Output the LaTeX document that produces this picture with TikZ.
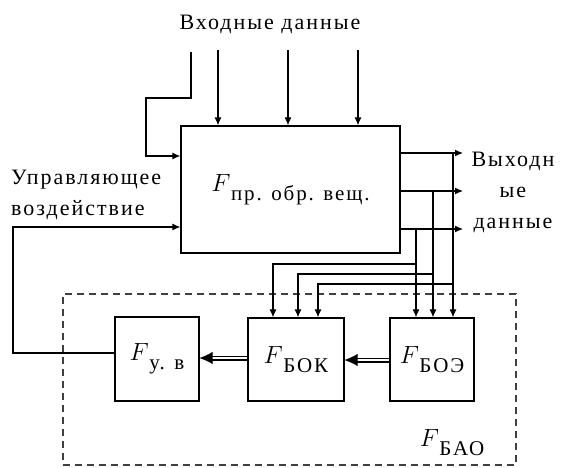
\documentclass[tikz,border=0pt]{standalone}
\usepackage{fontspec}
\setmainfont{Liberation Serif}
\newfontfamily\rmw[LetterSpace=9]{Liberation Serif}
\usetikzlibrary{arrows.meta}
\newcommand\FF[1]{{\fontsize{28}{30}\selectfont$F$}\kern0.5pt\raisebox{-9pt}{\fontsize{21}{22}\rmw #1}}
\newcommand\dblarrow[2]{%
  \draw[line width=5pt, shorten >=10pt] (#1) -- (#2);
  \draw[white, line width=1.6pt, shorten >=9pt, shorten <=0.7pt] (#1) -- (#2);
  \draw[white, line width=0.1pt, -{Latex[length=13pt,width=12pt,black]}] (#1) -- (#2);}
\begin{document}
\begin{tikzpicture}[x=1pt,y=-1pt,
  blk/.style={draw, line width=1.3pt, rectangle, inner sep=0pt},
  conn/.style={line width=1.1pt},
  arr/.style={conn, -{Latex[length=8pt,width=7pt]}},
  lbl/.style={font=\fontsize{22}{31}\rmw, inner sep=0pt},
  dashbox/.style={draw=black!75, line width=1.2pt, dash pattern=on 7pt off 5pt, inner sep=0pt},
]
\useasboundingbox (0,0) rectangle (562,468);

% blocks
\node[blk, minimum width=219pt, minimum height=127pt] (main) at (290.5,189.5) {\FF{пр. обр. вещ.}};
\node[dashbox, minimum width=453pt, minimum height=171pt] (bao) at (289.5,379.5) {};
\node[blk, minimum width=96pt, minimum height=83pt] (bok) at (296,359.5) {\FF{БОК}};
\node[blk, minimum width=84pt, minimum height=83pt] (boe) at (432,359.5) {\FF{БОЭ}};
\node[blk, minimum width=84pt, minimum height=84pt] (fyv) at (157,359) {\FF{у. в}};
\node[inner sep=0pt] (baol) at (452,443) {\FF{БАО}};

% labels
\node[lbl] (inl) at (270,24) {Входные данные};
\node[lbl, align=center] (outl) at (513,192) {Выходн\\ые\\данные};
\node[lbl, align=left, anchor=west] (ctll) at (11,195) {Управляющее\\воздействие};

% inputs
\coordinate (i1) at (218,50);
\coordinate (i2) at (288,50);
\coordinate (i3) at (358,50);
\foreach \c in {i1,i2,i3} \draw[arr] (\c) -- (\c |- main.north);
\coordinate (c0) at (191,52);
\coordinate (c1) at (191,98);
\coordinate (c2) at (146,98);
\coordinate (c3) at (146,156);
\draw[arr] (c0) -- (c1) -- (c2) -- (c3) -- (main.west |- c3);

% outputs
\coordinate (o1) at (463,153);
\coordinate (o2) at (463,191);
\coordinate (o3) at (463,229);
\foreach \c in {o1,o2,o3} \draw[arr] (main.east |- \c) -- (\c);

% drops to BOE
\coordinate (v1) at (453,153);
\coordinate (v2) at (433,191);
\coordinate (v3) at (416,229);
\foreach \c in {v1,v2,v3} \draw[arr] (\c) -- (\c |- boe.north);

% branches to BOK
\coordinate (b3) at (416,264);
\coordinate (b2) at (433,274);
\coordinate (b1) at (453,284);
\coordinate (k3) at (273,318);
\coordinate (k2) at (298,318);
\coordinate (k1) at (318,318);
\draw[arr] (b3) -| (k3 |- bok.north);
\draw[arr] (b2) -| (k2 |- bok.north);
\draw[arr] (b1) -| (k1 |- bok.north);

% double arrows
\coordinate (d1) at (0,360);
\coordinate (d2) at (0,358);
\dblarrow{boe.west |- d1}{bok.east |- d1}
\dblarrow{bok.west |- d2}{fyv.east |- d2}

% feedback
\coordinate (f1) at (13,353);
\coordinate (f2) at (13,227);
\draw[arr] (fyv.west |- f1) -- (f1) -- (f2) -- (main.west |- f2);
\end{tikzpicture}
\end{document}
